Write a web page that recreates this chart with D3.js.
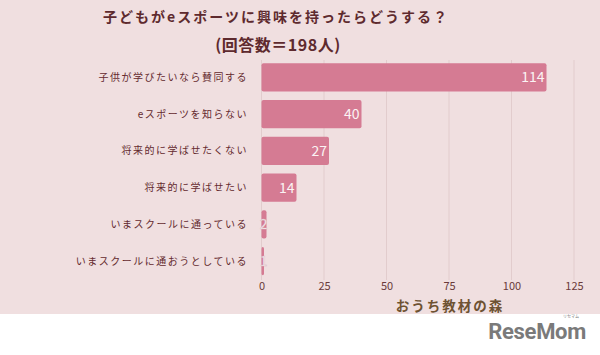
<!DOCTYPE html>
<html><head><meta charset="utf-8">
<script src="https://cdn.jsdelivr.net/npm/d3@7/dist/d3.min.js"></script>
<style>
html,body{margin:0;padding:0;background:#fff;}
svg{display:block;}
</style></head>
<body>
<svg id="chart" width="600" height="355"></svg>
<script>
const categories = ["子供が学びたいなら賛同する","eスポーツを知らない","将来的に学ばせたくない","将来的に学ばせたい","いまスクールに通っている","いまスクールに通おうとしている"];
const values = [114, 40, 27, 14, 2, 1];
const tickValues = [0, 25, 50, 75, 100, 125];
const titleLines = ["子どもがeスポーツに興味を持ったらどうする？", "(回答数＝198人)"];
const watermark = "おうち教材の森";
const logo = "ReseMom";

const font = "'Noto Sans CJK JP','Noto Sans',sans-serif";
const svg = d3.select("#chart");
svg.append("rect").attr("x",0).attr("y",0).attr("width",600).attr("height",314).attr("fill","#f0dfe0");

const x = d3.scaleLinear().domain([0,125]).range([261.5, 574]);
const y = d3.scaleBand().domain(categories).range([59.5, 279]).paddingInner(0.23).paddingOuter(0.1);

// gridlines
svg.append("g").selectAll("line").data(tickValues).join("line")
  .attr("x1",d=>x(d)).attr("x2",d=>x(d)).attr("y1",60).attr("y2",280)
  .attr("stroke","#e2cccd").attr("stroke-width",1);

// bars
svg.append("g").selectAll("rect").data(values).join("rect")
  .attr("x",x(0))
  .attr("y",(d,i)=>y(categories[i]))
  .attr("width",d=>x(d)-x(0))
  .attr("height",y.bandwidth())
  .attr("rx",2)
  .attr("fill","#d57b93");

// value labels
svg.append("g").selectAll("text").data(values).join("text")
  .attr("x",d=>Math.max(x(d)-2, x(0)+6))
  .attr("y",(d,i)=>y(categories[i])+y.bandwidth()/2)
  .attr("dy","0.36em")
  .attr("text-anchor","end")
  .attr("font-family",font)
  .attr("font-size",14)
  .attr("fill","#fbf3f4")
  .attr("stroke",d=>d<5?"#d8b8c0":"none")
  .attr("stroke-width",0.4)
  .text(d=>d);

// category labels
svg.append("g").selectAll("text").data(categories).join("text")
  .attr("x",248)
  .attr("y",d=>y(d)+y.bandwidth()/2)
  .attr("dy","0.36em")
  .attr("text-anchor","end")
  .attr("font-family",font)
  .attr("font-size",10)
  .attr("letter-spacing",1.5)
  .attr("fill","#642a2e")
  .text(d=>d);

// x axis
const axis = d3.axisBottom(x).tickValues(tickValues).tickSize(0).tickPadding(0);
const ag = svg.append("g").attr("transform","translate(0,281)").call(axis);
ag.select(".domain").remove();
ag.selectAll("text").attr("font-family",font).attr("font-size",11).attr("fill","#6a3a3a").attr("dy","0.8em");

// title
svg.append("text").attr("x",276).attr("y",22).attr("text-anchor","middle")
  .attr("font-family",font).attr("font-size",14).attr("font-weight","bold").attr("letter-spacing",2)
  .attr("fill","#5e2a2e").text(titleLines[0]);
svg.append("text").attr("x",278).attr("y",51).attr("text-anchor","middle")
  .attr("font-family",font).attr("font-size",16).attr("font-weight","bold").attr("letter-spacing",0.5)
  .attr("fill","#5e2a2e").text(titleLines[1]);

// watermark
svg.append("text").attr("x",450).attr("y",311).attr("text-anchor","middle")
  .attr("font-family",font).attr("font-size",13.5).attr("font-weight","bold").attr("letter-spacing",2)
  .attr("fill","#6e5232").text(watermark);

// logo
svg.append("text").attr("x",586).attr("y",339).attr("text-anchor","end")
  .attr("font-family","'Roboto','Noto Sans',sans-serif").attr("font-size",22).attr("font-weight","bold").attr("letter-spacing",-0.3)
  .attr("fill","#7a7a7a").text(logo);
svg.append("text").attr("x",571).attr("y",318).attr("text-anchor","middle")
  .attr("font-family",font).attr("font-size",4).attr("fill","#7a7a7a").text("リセマム");
</script>
</body></html>
